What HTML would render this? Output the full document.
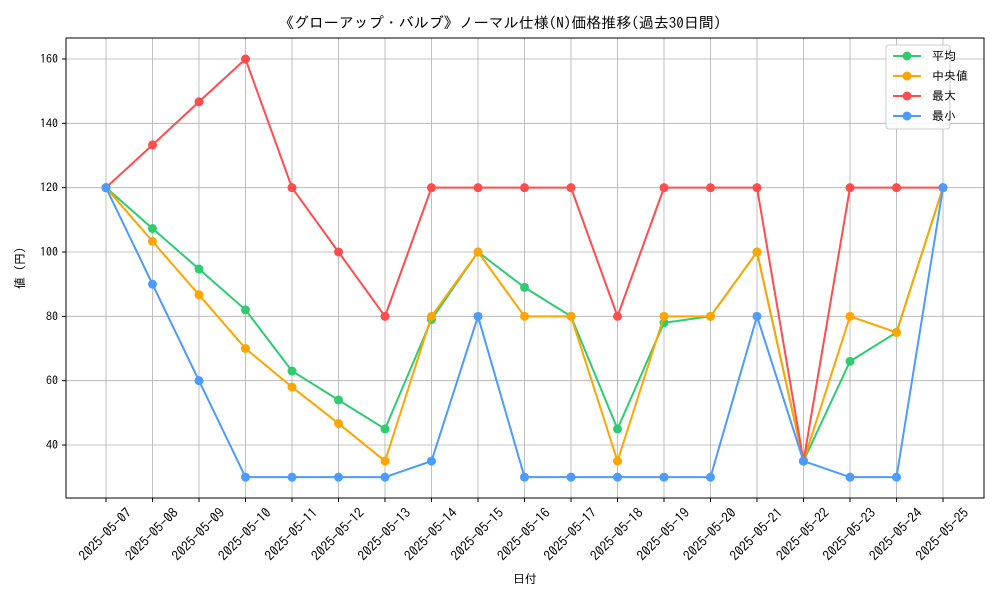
<!DOCTYPE html>
<html><head><meta charset="utf-8"><style>
body{margin:0;background:#fff;}
svg text{font-family:"IPAGothic","Noto Sans CJK JP",sans-serif;fill:#000;}
</style></head><body>
<svg id="chart" width="1000" height="600" xmlns="http://www.w3.org/2000/svg">
<rect width="1000" height="600" fill="#fff"/>
<text x="500" y="28" font-size="15" text-anchor="middle">《グローアップ・バルブ》ノーマル仕様(N)価格推移(過去30日間)</text>
<g id="grid"></g><g id="axes"></g><g id="series"></g>
<rect x="66" y="38" width="918" height="460" fill="none" stroke="#000" stroke-width="1"/>
<text x="525" y="583" font-size="12" text-anchor="middle">日付</text>
<text transform="translate(24,268) rotate(-90)" font-size="12" text-anchor="middle">値 (円)</text>
<g id="legend"></g>
</svg>
<script>
const categories=["2025-05-07","2025-05-08","2025-05-09","2025-05-10","2025-05-11","2025-05-12","2025-05-13","2025-05-14","2025-05-15","2025-05-16","2025-05-17","2025-05-18","2025-05-19","2025-05-20","2025-05-21","2025-05-22","2025-05-23","2025-05-24","2025-05-25"];
const avgValues=[120,107.3,94.7,82,63,54,45,79,100,89,80,45,78,80,100,35,66,75,120];
const medianValues=[120,103.3,86.7,70,58,46.7,35,80,100,80,80,35,80,80,100,35,80,75,120];
const maxValues=[120,133.3,146.7,160,120,100,80,120,120,120,120,80,120,120,120,35,120,120,120];
const minValues=[120,90,60,30,30,30,30,35,80,30,30,30,30,30,80,35,30,30,120];
const yTicks=[40,60,80,100,120,140,160];
const seriesNames=["平均","中央値","最大","最小"];
const seriesColors=["#2ecc71","#ffa500","#ff4c4c","#4c9bff"];
const NS="http://www.w3.org/2000/svg";
const xs=i=>106+i*(943-106)/(categories.length-1);
const ys=v=>445-(v-40)*(445-59)/120;
function mk(tag,attrs,parent){const e=document.createElementNS(NS,tag);for(const k in attrs)e.setAttribute(k,attrs[k]);parent.appendChild(e);return e;}
const grid=document.getElementById('grid'),axes=document.getElementById('axes');
categories.forEach((c,i)=>{
  const l=mk('line',{x1:xs(i),x2:xs(i),y1:38,y2:498,stroke:'#b0b0b0','stroke-width':0.8},grid);
  
  
  mk('line',{x1:xs(i),x2:xs(i),y1:498,y2:502,stroke:'#000'},axes);
  const cx=xs(i)-1, cy=534;
  const t=mk('text',{x:cx,y:cy,'font-size':13.5,'text-anchor':'middle','dominant-baseline':'central',transform:`rotate(-45 ${cx} ${cy})`},axes);
  t.textContent=c;
  
  
});
yTicks.forEach(v=>{
  const l=mk('line',{x1:66,x2:984,y1:ys(v),y2:ys(v),stroke:'#b0b0b0','stroke-width':0.8},grid);
  
  
  mk('line',{x1:62,x2:66,y1:ys(v),y2:ys(v),stroke:'#000'},axes);
  const t=mk('text',{x:58,y:ys(v)+4,'font-size':12,'text-anchor':'end'},axes);
  t.textContent=v;
  
  
});
const all=[avgValues,medianValues,maxValues,minValues];
const sg=document.getElementById('series');
[0,1,2,3].forEach(s=>{
  const vals=all[s];
  const g=mk('g',{},sg);
  
  
  mk('polyline',{points:vals.map((v,i)=>xs(i)+','+ys(v)).join(' '),fill:'none',stroke:seriesColors[s],'stroke-width':2},g);
  vals.forEach((v,i)=>{
    const p=mk('circle',{cx:xs(i),cy:ys(v),r:4.5,fill:seriesColors[s]},g);
    
    
  });
});
const lg=document.getElementById('legend');
mk('rect',{x:886,y:45,width:64,height:84,rx:3,fill:'#fff','fill-opacity':0.85,stroke:'#ccc'},lg);
seriesNames.forEach((n,i)=>{
  const y=56+i*20;
  const e=mk('g',{},lg);
  
  
  mk('line',{x1:893,x2:921,y1:y,y2:y,stroke:seriesColors[i],'stroke-width':2},e);
  mk('circle',{cx:907,cy:y,r:4.5,fill:seriesColors[i]},e);
  const t=mk('text',{x:932,y:y+4,'font-size':12},e);
  t.textContent=n;
});
</script>
</body></html>
